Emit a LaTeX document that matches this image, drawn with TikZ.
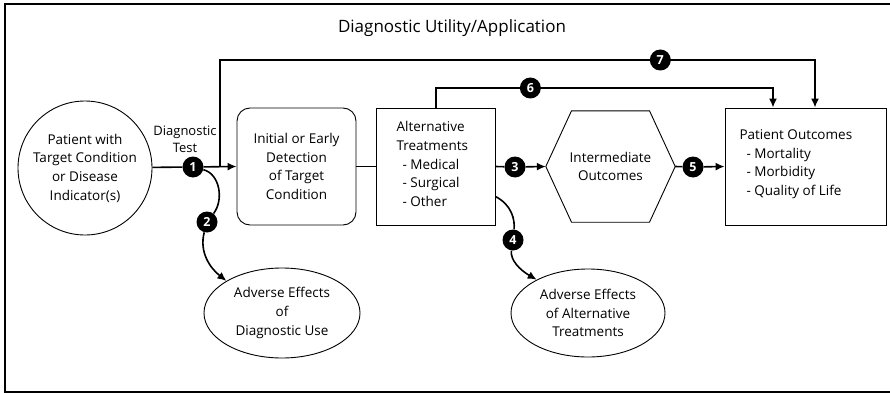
\documentclass[tikz,border=0pt]{standalone}
\usepackage{fontspec}
\setmainfont{Open Sans}
\usetikzlibrary{arrows.meta,shapes.geometric}
\begin{document}
\begin{tikzpicture}[x=1pt,y=-1pt,
  txt/.style={font=\fontsize{13.5}{18.7}\selectfont, align=center, text=black},
  box/.style={draw, line width=0.9pt, txt, inner sep=0pt},
  badge/.style={circle, fill=black, text=white, inner sep=0pt, minimum size=21pt, font=\fontsize{12.5}{12.5}\selectfont\bfseries},
  conn/.style={line width=1.6pt},
  arr/.style={conn, -{Latex[length=9pt,width=8pt]}},
]
\useasboundingbox (0,0) rectangle (890,393);
\draw[line width=1.2pt] (5,4) rectangle (896,392);

\node[txt, font=\fontsize{17}{20}\selectfont] (title) at (452,28) {Diagnostic Utility/Application};

% main nodes
\node[box, circle, minimum size=134pt] (patient) at (85,168) {Patient with\\Target Condition\\or Disease\\Indicator(s)};
\node[box, rounded corners=13pt, minimum width=119pt, minimum height=117pt] (detect) at (296.5,166.5) {Initial or Early\\Detection\\of Target\\Condition};
\node[box, minimum width=119pt, minimum height=117pt] (alt) at (435.5,166.5) {};
\node[txt, align=left, anchor=north west] (alttext) at (393,118) {Alternative\\Treatments\\\hspace*{6pt}- Medical\\\hspace*{6pt}- Surgical\\\hspace*{6pt}- Other};
\node[txt, minimum width=129pt, minimum height=111pt, inner sep=0pt] (hex) at (610.5,166.5) {Intermediate\\Outcomes};
\draw[line width=0.9pt] (hex.west) -- ([xshift=-39pt]hex.north) -- ([xshift=39pt]hex.north) -- (hex.east) -- ([xshift=39pt]hex.south) -- ([xshift=-39pt]hex.south) -- cycle;
\node[box, minimum width=161pt, minimum height=117pt] (outcomes) at (805.5,166.5) {};
\node[txt, align=left, anchor=north west] (outtext) at (736,126) {Patient Outcomes\\\hspace*{7pt}- Mortality\\\hspace*{7pt}- Morbidity\\\hspace*{7pt}- Quality of Life};
\node[box, ellipse, minimum width=156pt, minimum height=90pt] (ell1) at (282,313) {Adverse Effects\\of\\Diagnostic Use};
\node[box, ellipse, minimum width=154pt, minimum height=88pt] (ell2) at (588,313) {Adverse Effects\\of Alternative\\Treatments};
\node[txt, font=\fontsize{13}{17}\selectfont] (dtest) at (185,139) {Diagnostic\\Test};

% badges
\node[badge] (b1) at (193,167) {1};
\node[badge] (b2) at (207,222) {2};
\node[badge] (b3) at (515,167) {3};
\node[badge] (b4) at (513,240) {4};
\node[badge] (b5) at (693,167) {5};

% connector coordinates
\coordinate (j1) at (220,167);
\coordinate (t7a) at (220,60);
\coordinate (t7b) at (815,60);
\coordinate (t6a) at (436,88);
\coordinate (t6b) at (773,88);

% connectors
\draw[conn] (patient) -- (b1);
\draw[arr] (b1) -- (detect.west);
\draw[arr] (j1) -- (t7a) -- node[badge, pos=0.74] (b7) {7} (t7b) -- (outcomes.north -| t7b);
\draw[arr] (alt.north -| t6a) -- (t6a) -- node[badge, pos=0.28] (b6) {6} (t6b) -- (outcomes.north -| t6b);
\draw[conn, line width=1.2pt] (detect.east) -- (alt.west);
\draw[conn] (alt.east) -- (b3);
\draw[arr] (b3) -- (hex.west);
\draw[conn] (hex.east) -- (b5);
\draw[arr] (b5) -- (outcomes.west);
\draw[conn] (b1) .. controls (220,174) and (224,200) .. (b2);
\draw[arr] (b2) .. controls (199,252) and (210,268) .. (ell1.150);
\draw[conn] ([yshift=-30pt]alt.east) .. controls (512,205) and (515,220) .. (b4);
\draw[arr] (b4) .. controls (510,260) and (520,270) .. (ell2.147);
\end{tikzpicture}
\end{document}
